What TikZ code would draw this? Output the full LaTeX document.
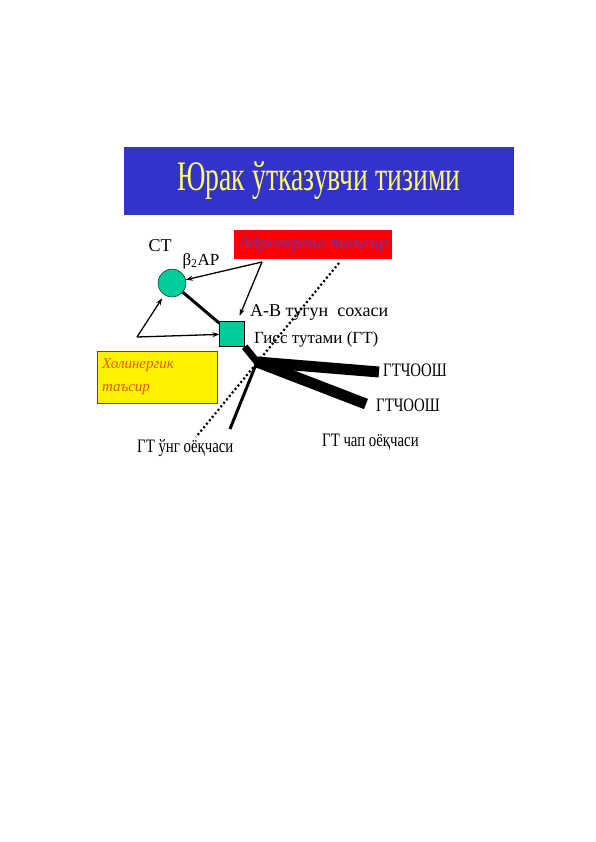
\documentclass[tikz,border=0pt]{standalone}
\usepackage{fontspec}
\setmainfont{Liberation Serif}
\newfontfamily\narrowfont{Liberation Serif}[FakeStretch=0.78]
\newfontfamily\titlefont{Liberation Serif}[FakeStretch=0.66]
\usetikzlibrary{arrows.meta}
\definecolor{titleblue}{RGB}{51,51,204}
\definecolor{titleyellow}{RGB}{255,255,102}
\definecolor{nodegreen}{RGB}{0,204,153}
\definecolor{adrviolet}{RGB}{112,48,170}
\definecolor{holred}{RGB}{230,90,0}

\begin{document}
\begin{tikzpicture}[x=1pt, y=-1pt,
    lbl/.style={inner sep=0pt, font=\fontsize{17}{20}\selectfont},
    narrowlbl/.style={inner sep=0pt, font=\narrowfont\fontsize{19}{22}\selectfont},
    arr/.style={line width=1.3pt, -{Stealth[length=7pt, width=5pt]}},
    bundle/.style={line width=11pt}]
\useasboundingbox (0,0) rectangle (596,842);
% title
\node[fill=titleblue, minimum width=390pt, minimum height=68pt, text=titleyellow,
      font=\titlefont\fontsize{42}{48}\selectfont] (title) at (319,181) {Юрак ўтказувчи тизими};
% boxes
\node[fill=red, minimum width=158pt, minimum height=29pt, inner sep=0pt, text=adrviolet,
      font=\itshape\fontsize{18}{20}\selectfont] (adr) at (313,244) {Адренергик таъсир};
\node[fill=yellow, draw=red, line width=0.8pt, text width=110pt, minimum height=52pt, inner sep=5pt,
      align=left, text=holred, font=\itshape\fontsize{15}{23}\selectfont] (hol) at (157,377) {Холинергик\\таъсир};
% nodes
\node[circle, draw, fill=nodegreen, minimum size=28pt, inner sep=0pt] (st) at (172,283) {};
\node[draw, fill=nodegreen, minimum size=25pt, inner sep=0pt] (av) at (232,334) {};
\coordinate (src) at (262,262);
\coordinate (ret) at (137,337);
\coordinate (j) at (257,362);
\coordinate (ltop) at (379,372);
\coordinate (lbot) at (366,404);
\coordinate (rb) at (230,429);
\coordinate (d1) at (339,263);
\coordinate (d2) at (196,437);
% labels
\node[lbl, anchor=base, font=\fontsize{18}{20}\selectfont] (stl) at (160,251) {СТ};
\node[lbl, anchor=base] (bar) at (201,265) {β\textsubscript{2}АР};
\node[lbl, anchor=base west, font=\fontsize{18}{20}\selectfont] (avl) at (250,316) {А-В тугун\ \ сохаси};
\node[lbl, anchor=base west] (gtl) at (254,343) {Гисс тутами (ГТ)};
\node[narrowlbl, anchor=base west] (lt) at (383,376) {ГТЧООШ};
\node[narrowlbl, anchor=base west] (lb) at (376,411) {ГТЧООШ};
\node[narrowlbl, anchor=base west] (lleg) at (322,446) {ГТ чап оёқчаси};
\node[narrowlbl, anchor=base west] (rleg) at (137,452) {ГТ ўнг оёқчаси};
% connections
\draw[arr] (src) -- (st);
\draw[arr, shorten >=6pt] (src) -- (av);
\draw[arr, shorten >=4pt] (ret) -- (st);
\draw[arr] (ret) -- (av);
\draw[line width=3pt] (st) -- (av);
\draw[line width=2.2pt, dash pattern=on 2pt off 2.5pt] (d1) -- (d2);
\draw[line width=7pt] (av.south east) -- (j);
\draw[bundle] (j) -- (ltop);
\draw[bundle] (j) -- (lbot);
\draw[line width=3pt] (j) -- (rb);
\end{tikzpicture}
\end{document}
